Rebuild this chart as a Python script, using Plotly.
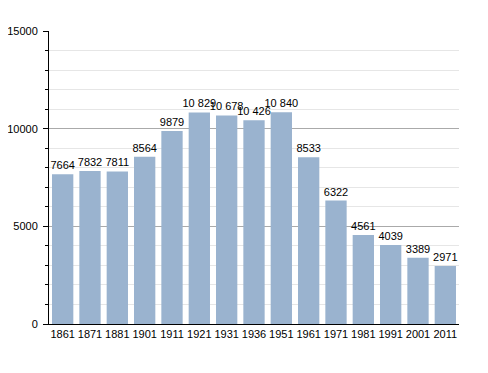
import plotly.graph_objects as go

years = ["1861", "1871", "1881", "1901", "1911", "1921", "1931", "1936", "1951",
         "1961", "1971", "1981", "1991", "2001", "2011"]
population = [7664, 7832, 7811, 8564, 9879, 10829, 10678, 10426, 10840,
              8533, 6322, 4561, 4039, 3389, 2971]
labels = [f"{v:,}".replace(",", " ") if v >= 10000 else str(v) for v in population]
y_ticks = [0, 5000, 10000, 15000]

fig = go.Figure(go.Bar(
    x=years, y=population, text=labels, textposition="outside",
    marker=dict(color="#9AB3CF", line=dict(width=0)),
    textfont=dict(family="Liberation Sans, Arial", size=11, color="#000"),
    constraintext="none",
    cliponaxis=False,
))
# page body has an 8px default margin, so margins are shifted to compensate
fig.update_layout(
    width=488, height=373,
    margin=dict(l=41, r=37, t=23, b=57, autoexpand=False),
    paper_bgcolor="white", plot_bgcolor="white",
    bargap=0.22, showlegend=False,
    font=dict(family="Liberation Sans, Arial", size=11, color="#000"),
)
fig.update_xaxes(type="category", showline=True, linecolor="#000", linewidth=1,
                 ticks="", showgrid=False, tickfont=dict(size=11), automargin=False)
fig.update_yaxes(range=[0, 15000], tickvals=y_ticks, ticktext=[str(v) for v in y_ticks],
                 showline=True, linecolor="#000", linewidth=1, automargin=False,
                 ticks="outside", ticklen=5, tickcolor="#000", ticklabelstandoff=3,
                 showgrid=True, gridcolor="#AAAAAA", gridwidth=1, zeroline=False,
                 minor=dict(dtick=1000, showgrid=True, gridcolor="#E6E6E6",
                            ticks="outside", ticklen=3, tickcolor="#000"))
fig.write_html("out.html")
